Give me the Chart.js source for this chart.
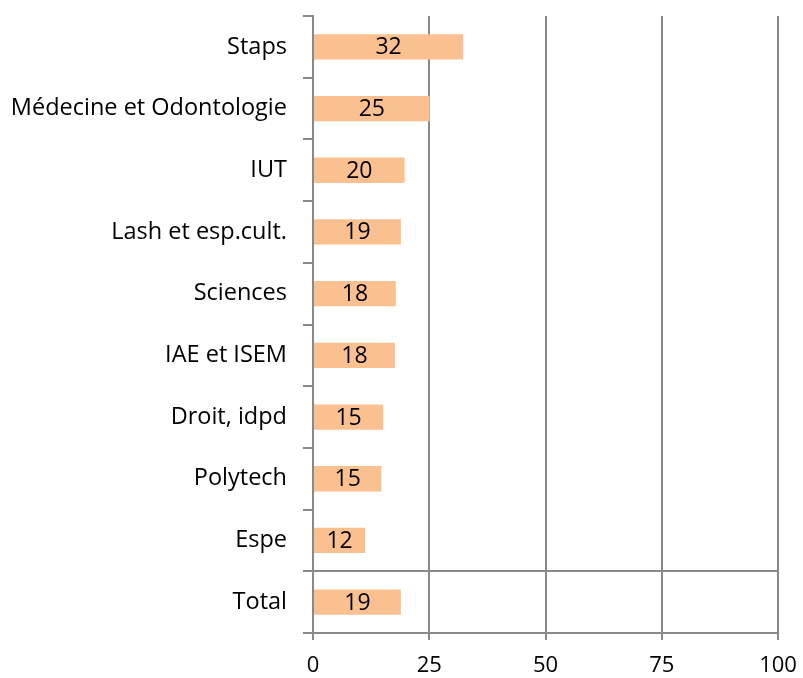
<!DOCTYPE html>
<html>
<head>
<meta charset="utf-8">
<script src="https://cdn.jsdelivr.net/npm/chart.js@4.4.0/dist/chart.umd.min.js"></script>
<style>
  html, body { margin: 0; padding: 0; background: #fff; }
  #wrap { width: 803px; height: 678px; }
</style>
</head>
<body>
<div id="wrap"><canvas id="chart" width="803" height="678"></canvas></div>
<script>
const categories = ['Staps', 'Médecine et Odontologie', 'IUT', 'Lash et esp.cult.', 'Sciences',
                    'IAE et ISEM', 'Droit, idpd', 'Polytech', 'Espe', 'Total'];
const values     = [32.3, 25.1, 19.7, 18.9, 17.8, 17.6, 15.1, 14.7, 11.2, 18.9];
const labels     = ['32', '25', '20', '19', '18', '18', '15', '15', '12', '19'];
const xTicks     = [0, 25, 50, 75, 100];

const FONT = '"Open Sans", "Liberation Sans", sans-serif';
const GRID = '#898989';

// value labels centred in each bar
const barLabels = {
  id: 'barLabels',
  afterDatasetsDraw(chart) {
    const ctx = chart.ctx;
    const meta = chart.getDatasetMeta(0);
    ctx.save();
    ctx.fillStyle = '#000';
    ctx.font = '23px ' + FONT;
    ctx.textAlign = 'center';
    ctx.textBaseline = 'middle';
    meta.data.forEach((bar, i) => {
      ctx.fillText(labels[i], (bar.x + bar.base) / 2, bar.y + 1);
    });
    ctx.restore();
  }
};

new Chart(document.getElementById('chart'), {
  type: 'bar',
  data: {
    labels: categories,
    datasets: [{
      data: values,
      backgroundColor: '#FAC090',
      borderWidth: 0,
      barPercentage: 0.41,
      categoryPercentage: 1.0,
    }]
  },
  options: {
    indexAxis: 'y',
    responsive: false,
    animation: false,
    layout: { padding: { top: 16, right: 25, left: 0, bottom: 0 } },
    plugins: {
      legend: { display: false },
      tooltip: { enabled: false },
    },
    scales: {
      x: {
        min: 0,
        max: 100,
        afterBuildTicks: s => { s.ticks = xTicks.map(v => ({ value: v })); },
        afterFit: s => { s.height = 45; s.paddingLeft = 0; s.paddingRight = 0; },
        border: { display: true, color: GRID, width: 2 },
        grid: { color: GRID, lineWidth: 2, tickLength: 7, tickColor: GRID },
        ticks: { color: '#000', font: { family: FONT, size: 22 }, padding: 13 },
      },
      y: {
        afterFit: s => { s.width = 313; s.paddingTop = 0; s.paddingBottom = 0; },
        border: { display: true, color: GRID, width: 2 },
        grid: {
          offset: true,
          lineWidth: 2,
          tickLength: 10,
          tickColor: GRID,
          color: c => (c.index === 9 ? GRID : 'rgba(0,0,0,0)'),
        },
        ticks: { color: '#000', font: { family: FONT, size: 23.5 }, padding: 16 },
      }
    }
  },
  plugins: [barLabels]
});
</script>
</body>
</html>
